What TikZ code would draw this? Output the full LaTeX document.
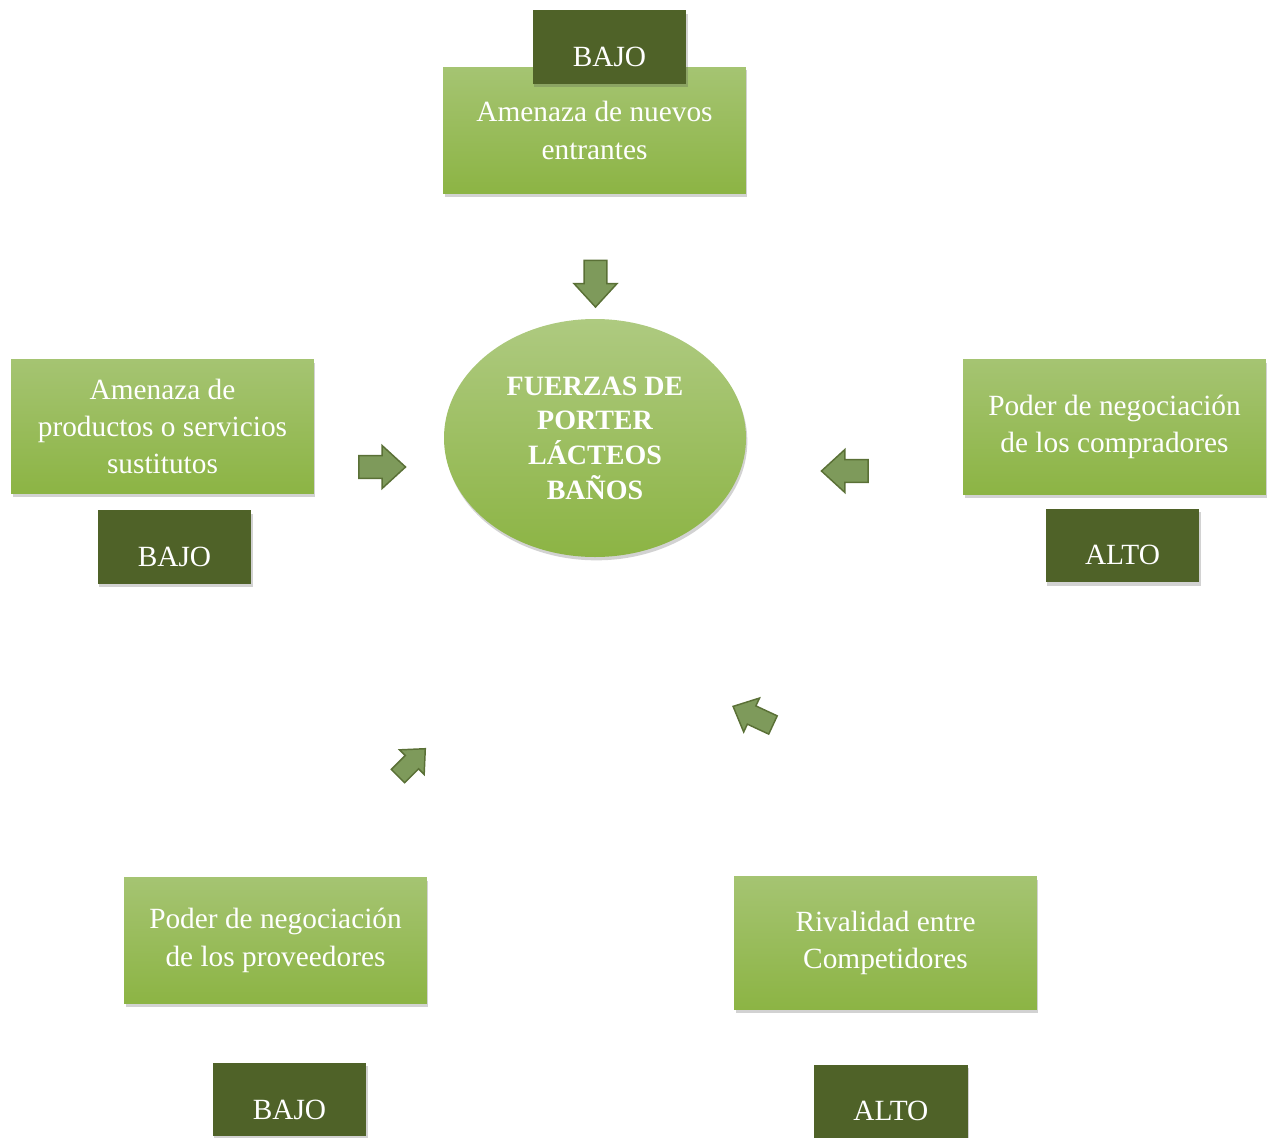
\documentclass[tikz,border=0pt]{standalone}
\usepackage{fontspec}
\setmainfont{Liberation Serif}
\usetikzlibrary{positioning,shapes.geometric,shapes.arrows,shadows}
\definecolor{boxtop}{HTML}{A5C472}
\definecolor{boxbot}{HTML}{8CB444}
\definecolor{darkbox}{HTML}{4F6228}
\definecolor{arrfill}{HTML}{7E9A5B}
\definecolor{arrline}{HTML}{5A7036}

\begin{document}
\begin{tikzpicture}[
  x=0.75pt, y=-0.75pt,
  font=\fontsize{22}{28}\selectfont,
  soft/.style={drop shadow={shadow xshift=1pt, shadow yshift=-2.5pt, opacity=0.25, fill=black!70}},
  force/.style={rectangle, top color=boxtop, bottom color=boxbot, text=white, align=center,
    minimum width=227pt, minimum height=95pt, inner sep=2pt, soft},
  level/.style={rectangle, fill=darkbox, text=white, minimum width=115pt, minimum height=55pt,
    text height=29pt, text depth=0pt, inner sep=0pt, soft},
  hub/.style={ellipse, top color=boxtop!90!white, bottom color=boxbot, text=white, align=center,
    minimum width=226.5pt, minimum height=178.5pt, inner sep=0pt,
    font=\fontsize{21}{26}\selectfont\bfseries, soft},
  blockarr/.style={single arrow, fill=arrfill, draw=arrline, line width=1.1pt,
    minimum height=35pt, inner xsep=0pt, inner ysep=8pt, single arrow head extend=7.5pt,
    single arrow tip angle=85}
]
\useasboundingbox (0,0) rectangle (1271,1138);

\node[force] (entrants) at (594.5,130.5) {Amenaza de nuevos\\entrantes};
\node[level, above=-12.75pt of entrants, xshift=11.25pt] (entrantslvl) {BAJO};

\node[force, minimum height=101pt] (substitutes) at (162.5,426.5) {Amenaza de\\productos o servicios\\sustitutos};
\node[level, below=12pt of substitutes, xshift=9pt] (substituteslvl) {BAJO};

\node[force, minimum height=101pt] (buyers) at (1114.5,427) {Poder de negociación\\de los compradores};
\node[level, below=10.5pt of buyers, xshift=6pt] (buyerslvl) {ALTO};

\node[force] (suppliers) at (275.5,940.5) {Poder de negociación\\de los proveedores};
\node[level, below=44pt of suppliers, xshift=10.5pt] (supplierslvl) {BAJO};

\node[force, minimum height=100pt] (rivalry) at (885.5,943) {Rivalidad entre\\Competidores};
\node[level, below=41pt of rivalry, xshift=4pt] (rivalrylvl) {ALTO};

\node[hub] (porter) at (595,438) {FUERZAS DE\\PORTER\\LÁCTEOS\\BAÑOS};

\node[blockarr, rotate=-90] (fromtop) at (595.5,277.5) {};
\node[blockarr] (fromleft) at (376,467) {};
\node[blockarr, rotate=180] (fromright) at (851,471) {};
\node[blockarr, rotate=45, minimum height=29pt, inner ysep=6.5pt, single arrow head extend=6pt] (fromsupp) at (408,766) {};
\node[blockarr, rotate=155, minimum height=33pt, inner ysep=7pt, single arrow head extend=6.5pt] (fromrival) at (758,718) {};
\end{tikzpicture}
\end{document}
